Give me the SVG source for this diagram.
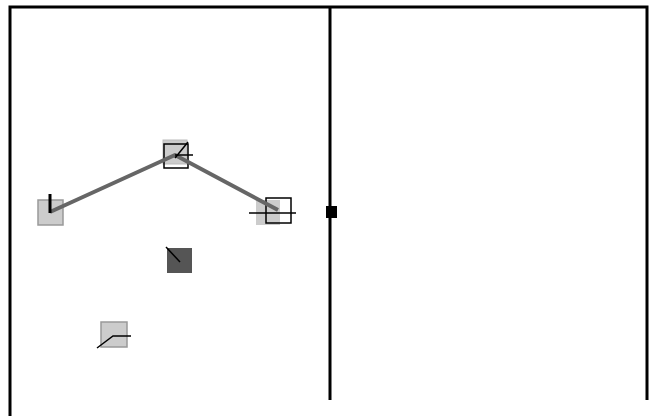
<svg xmlns="http://www.w3.org/2000/svg" width="653" height="416" viewBox="0 0 653 416">
<style>
.frame{stroke:#000;stroke-width:3;fill:none}
.lt{fill:#ccc;stroke:#999;stroke-width:1.5}
.ol{fill:none;stroke:#000;stroke-width:1.5}
.tick{stroke:#000;stroke-width:1.5;fill:none}
.path{stroke:#666;stroke-width:4;fill:none;stroke-linejoin:round}
</style>
<rect width="653" height="416" fill="#fff"/>
<g id="frame">
<polyline class="frame" points="10,416 10,7 647,7 647,400"/>
<line class="frame" x1="330" y1="7" x2="330" y2="400"/>
</g>
<g id="node1">
<rect class="lt" x="38" y="200" width="25" height="25"/>
</g>
<g id="node2">
<rect x="163" y="140" width="24" height="24" fill="#ccc" stroke="#bbb" stroke-width="1"/>
<rect class="ol" x="164" y="144" width="24" height="24"/>
</g>
<g id="node3">
<rect x="256" y="200" width="24" height="25" fill="#ccc"/>
<rect class="ol" x="266" y="198" width="25" height="25"/>
</g>
<g id="node4">
<rect x="167" y="248" width="25" height="25" fill="#555"/>
<line x1="166" y1="247" x2="180" y2="262" stroke="#000" stroke-width="1.5"/>
</g>
<g id="node5">
<rect class="lt" x="101" y="322" width="26" height="25"/>
<polyline class="tick" points="97,348 113,336 131,336"/>
</g>
<g id="node6">
<rect x="326" y="206" width="11" height="12" fill="#000"/>
</g>
<g id="connectors">
<polyline class="path" points="50,212 175,155 278,210"/>
</g>
<g id="ticks">
<line x1="50" y1="194" x2="50" y2="213" stroke="#000" stroke-width="3"/>
<line class="tick" x1="175" y1="158" x2="188" y2="142"/>
<line class="tick" x1="175" y1="155" x2="193" y2="155"/>
<line class="tick" x1="249" y1="213" x2="296" y2="213"/>
</g>
</svg>
